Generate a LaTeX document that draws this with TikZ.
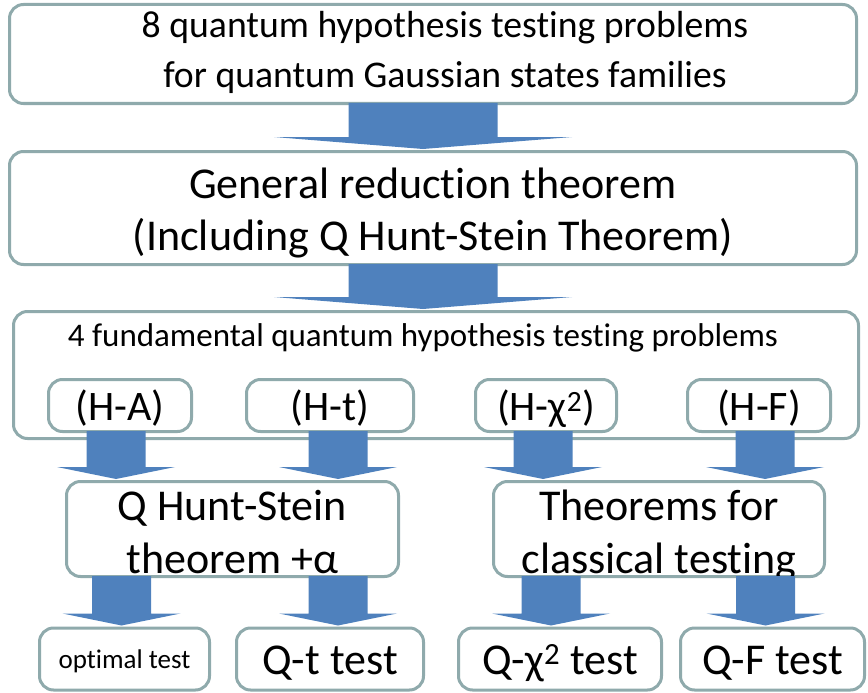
\documentclass[tikz,border=0pt]{standalone}
\usepackage{fontspec}
\setmainfont{Carlito}[Ligatures={NoCommon}]
\usetikzlibrary{calc}

\definecolor{boxline}{RGB}{143,170,172}
\definecolor{arrowfill}{RGB}{79,129,189}

\tikzset{
  box/.style={draw=boxline, line width=3pt, rounded corners=14pt, fill=white,
    align=center, inner sep=0pt},
  drop/.style={text height=#1, text depth=0pt},
}

% block arrow: x centre, half shaft width, from node, to node
\newcommand{\blockarrow}[4]{%
  \fill[arrowfill] let \p1=(#3.south), \p2=(#4.north), \n1={(#1)*1pt}, \n2={(#2)*1pt} in
    ({\n1-\n2},{\y1+2pt}) -- ({\n1+\n2},{\y1+2pt}) -- ({\n1+\n2},{\y2+13pt})
    -- ({\n1+2*\n2},{\y2+13pt}) -- ({\n1},{\y2+1pt}) -- ({\n1-2*\n2},{\y2+13pt})
    -- ({\n1-\n2},{\y2+13pt}) -- cycle;
}

\begin{document}
\begin{tikzpicture}[x=1pt, y=-1pt]
  \useasboundingbox (0,0) rectangle (868,693);

  % top boxes
  \node[box, minimum width=847pt, minimum height=99pt] (problems) at (433,54) {};
  \node[align=center, inner sep=0pt, drop=68pt, font=\fontsize{37.7}{50}\selectfont]
    (problemstext) at (445,54) {8 quantum hypothesis testing problems\\for quantum Gaussian states families};
  \node[box, minimum width=847pt, minimum height=113pt, drop=85pt, font=\fontsize{44}{52}\selectfont]
    (reduction) at (433,208) {General reduction theorem\\(Including Q Hunt-Stein Theorem)};

  % fundamental problems
  \node[box, minimum width=845pt, minimum height=127pt] (fund) at (436,375) {};
  \node[font=\fontsize{33}{38}\selectfont, anchor=base, inner sep=0pt] (fundtitle) at (423,346)
    {4 fundamental quantum hypothesis testing problems};
  \foreach \name/\xc/\w/\txt in {ha/120/143/(H-A), ht/330/167/(H-t),
      hchi/546/141/(H-χ\textsuperscript{2}), hf/759/143/(H-F)} {
    \node[box, minimum width=\w pt, minimum height=52pt, drop=30pt, font=\fontsize{42}{44}\selectfont]
      (\name) at (\xc,405.5) {\txt};
  }

  % theorems
  \node[box, minimum width=332pt, minimum height=95pt, drop=89pt, font=\fontsize{44}{53}\selectfont]
    (hunt) at (232.5,529) {Q Hunt-Stein\\theorem +α};
  \node[box, minimum width=331pt, minimum height=95pt, drop=89pt, font=\fontsize{44}{53}\selectfont]
    (classic) at (659,529) {Theorems for\\classical testing};

  % tests
  \node[box, minimum width=170pt, minimum height=62pt, drop=18pt, font=\fontsize{27}{30}\selectfont]
    (opt) at (124.5,659) {optimal test};
  \foreach \name/\xc/\w/\txt in {qt/330/187/Q-t test, qchi/560/203/Q-χ\textsuperscript{2} test,
      qf/772.5/184/Q-F test} {
    \node[box, minimum width=\w pt, minimum height=62pt, drop=30pt, font=\fontsize{44}{46}\selectfont]
      (\name) at (\xc,659) {\txt};
  }

  % arrows
  \blockarrow{423}{74.5}{problems}{reduction}
  \blockarrow{423}{74.5}{reduction}{fund}
  \foreach \xc/\a/\b in {116/ha/hunt, 338/ht/hunt, 543/hchi/classic, 765/hf/classic,
      121.5/hunt/opt, 338/hunt/qt, 551/classic/qchi, 765.5/classic/qf} {
    \blockarrow{\xc}{29.5}{\a}{\b}
  }
\end{tikzpicture}
\end{document}
